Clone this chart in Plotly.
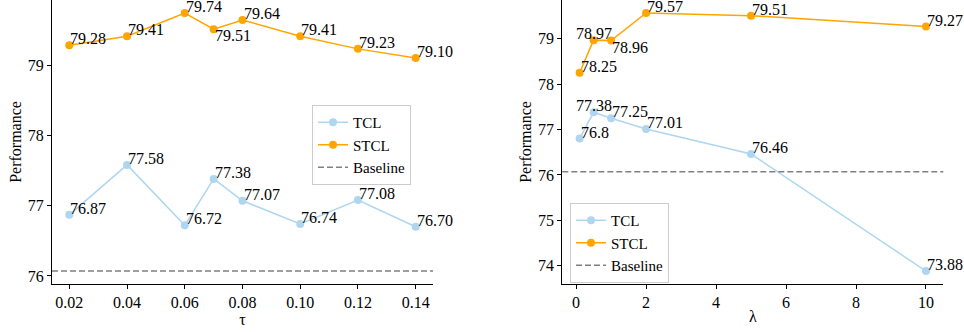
import plotly.graph_objects as go

# ---- data ----
tau = [0.02, 0.04, 0.06, 0.07, 0.08, 0.10, 0.12, 0.14]
tau_tcl = [76.87, 77.58, 76.72, 77.38, 77.07, 76.74, 77.08, 76.70]
tau_stcl = [79.28, 79.41, 79.74, 79.51, 79.64, 79.41, 79.23, 79.10]
tau_tcl_labels = ["76.87", "77.58", "76.72", "77.38", "77.07", "76.74", "77.08", "76.70"]
tau_stcl_labels = ["79.28", "79.41", "79.74", "79.51", "79.64", "79.41", "79.23", "79.10"]

lam = [0.1, 0.5, 1, 2, 5, 10]
lam_tcl = [76.8, 77.38, 77.25, 77.01, 76.46, 73.88]
lam_stcl = [78.25, 78.97, 78.96, 79.57, 79.51, 79.27]
lam_tcl_labels = ["76.8", "77.38", "77.25", "77.01", "76.46", "73.88"]
lam_stcl_labels = ["78.25", "78.97", "78.96", "79.57", "79.51", "79.27"]

baseline = 76.07

tau_ticks = [0.02, 0.04, 0.06, 0.08, 0.10, 0.12, 0.14]
tau_ticklabels = ["0.02", "0.04", "0.06", "0.08", "0.10", "0.12", "0.14"]
lam_ticks = [0, 2, 4, 6, 8, 10]
left_yticks = [76, 77, 78, 79]
right_yticks = [74, 75, 76, 77, 78, 79]

# ---- style ----
FONT = "Liberation Serif"
FS = 16
C_TCL = "#aed6f1"
C_STCL = "#ffa500"
C_BASE = "#808080"
DASH = "6px,3px"

fig = go.Figure()

def add_series(x, y, name, color, xa, ya, legend):
    fig.add_trace(go.Scatter(
        x=x, y=y, mode="lines+markers", name=name,
        line=dict(color=color, width=1.5),
        marker=dict(color=color, size=8, symbol="circle"),
        xaxis=xa, yaxis=ya, legend=legend,
    ))

add_series(tau, tau_tcl, "TCL", C_TCL, "x", "y", "legend")
add_series(tau, tau_stcl, "STCL", C_STCL, "x", "y", "legend")
add_series(lam, lam_tcl, "TCL", C_TCL, "x2", "y2", "legend2")
add_series(lam, lam_stcl, "STCL", C_STCL, "x2", "y2", "legend2")

# legend entries for the baseline
for xa, ya, lg in (("x", "y", "legend"), ("x2", "y2", "legend2")):
    fig.add_trace(go.Scatter(x=[None], y=[None], mode="lines", name="Baseline",
                             line=dict(color=C_BASE, width=1.5, dash=DASH),
                             xaxis=xa, yaxis=ya, legend=lg))

# baselines (axhline)
for xr, yr in (("x domain", "y"), ("x2 domain", "y2")):
    fig.add_shape(type="line", xref=xr, yref=yr, x0=0, x1=1, y0=baseline, y1=baseline,
                  line=dict(color=C_BASE, width=1.5, dash=DASH))

# ---- annotations ----
anns = []
def lab(x, y, t, xr, yr, mode="bl"):
    d = dict(x=x, y=y, text=t, xref=xr, yref=yr, showarrow=False,
             font=dict(family=FONT, size=FS, color="black"), xanchor="left",
             yanchor="bottom", yshift=-3, borderpad=0)
    if mode == "tl":
        d.update(yanchor="top", yshift=3)
    elif mode == "bc":
        d.update(xanchor="center")
    anns.append(d)

for i, (x, y, t) in enumerate(zip(tau, tau_stcl, tau_stcl_labels)):
    lab(x, y, t, "x", "y", "tl" if i == 3 else "bl")
for x, y, t in zip(tau, tau_tcl, tau_tcl_labels):
    lab(x, y, t, "x", "y")
for i, (x, y, t) in enumerate(zip(lam, lam_stcl, lam_stcl_labels)):
    lab(x, y, t, "x2", "y2", {1: "bc", 2: "tl"}.get(i, "bl"))
for i, (x, y, t) in enumerate(zip(lam, lam_tcl, lam_tcl_labels)):
    lab(x, y, t, "x2", "y2", "bc" if i == 1 else "bl")

axis_common = dict(
    showline=True, linecolor="black", linewidth=1, ticks="outside", ticklen=4,
    tickwidth=1, tickcolor="black", showgrid=False, zeroline=False,
    tickfont=dict(family=FONT, size=FS, color="black"),
    title_font=dict(family=FONT, size=FS, color="black"),
    mirror=False,
)

W, H = 964, 332
ydom = [(H - 284) / H, 1.0]

fig.update_layout(
    width=W, height=H,
    margin=dict(l=0, r=0, t=0, b=0),
    paper_bgcolor="white", plot_bgcolor="white",
    font=dict(family=FONT, size=FS, color="black"),
    annotations=anns,
    xaxis=dict(domain=[52 / W, 433 / W], range=[0.014, 0.146], tickvals=tau_ticks,
               ticktext=tau_ticklabels, title=dict(text="τ", standoff=0), anchor="y", **axis_common),
    yaxis=dict(domain=ydom, range=[75.886, 79.925], tickvals=left_yticks,
               title=dict(text="Performance", standoff=2), anchor="x", **axis_common),
    xaxis2=dict(domain=[562.3 / W, 943.3 / W], range=[-0.395, 10.495], tickvals=lam_ticks,
                title=dict(text="λ", standoff=0), anchor="y2", **axis_common),
    yaxis2=dict(domain=ydom, range=[73.5955, 79.8545], tickvals=right_yticks,
                title=dict(text="Performance", standoff=2), anchor="x2", **axis_common),
    legend=dict(x=312 / W, y=1 - 105 / H, xanchor="left", yanchor="top",
                bgcolor="rgba(255,255,255,0.8)", bordercolor="#cccccc", borderwidth=1,
                font=dict(family=FONT, size=15, color="black")),
    legend2=dict(x=570 / W, y=1 - 203 / H, xanchor="left", yanchor="top",
                 bgcolor="rgba(255,255,255,0.8)", bordercolor="#cccccc", borderwidth=1,
                 font=dict(family=FONT, size=15, color="black")),
)

fig.write_html("out.html", config={"displayModeBar": False},
               post_script="document.body.style.margin='0px';document.body.style.overflow='hidden';")
